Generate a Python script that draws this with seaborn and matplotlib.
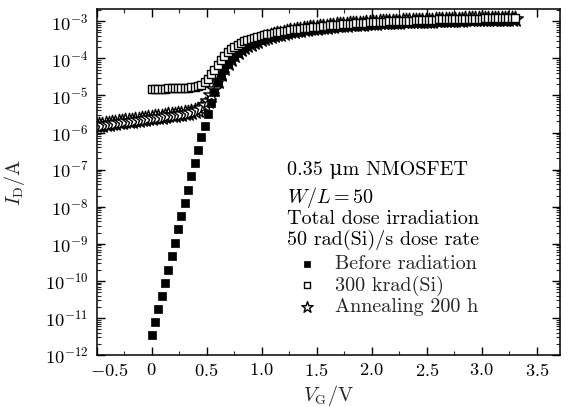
import numpy as np
import pandas as pd
import matplotlib
matplotlib.use("Agg")
import matplotlib.pyplot as plt
from matplotlib.ticker import FixedLocator, FuncFormatter, LogLocator, NullFormatter, MultipleLocator
from matplotlib.transforms import ScaledTranslation
import seaborn as sns

# ---------------- data (log10 of drain current, A) ----------------
vg_before = [0.00, 0.03, 0.06, 0.09, 0.12, 0.15, 0.18, 0.21, 0.24, 0.27, 0.30, 0.33, 0.36, 0.39, 0.42, 0.45,
             0.48, 0.51, 0.54, 0.57, 0.60, 0.63, 0.66, 0.69, 0.72, 0.75, 0.78, 0.81, 0.84, 0.87, 0.90, 0.93,
             0.96, 0.99, 1.02, 1.05, 1.08, 1.11, 1.14, 1.17, 1.20, 1.23, 1.26, 1.29, 1.32, 1.35, 1.38, 1.41,
             1.44, 1.47, 1.50, 1.53, 1.56, 1.59, 1.62, 1.65, 1.68, 1.71, 1.74, 1.77, 1.80, 1.83, 1.86, 1.89,
             1.92, 1.95, 1.98, 2.01, 2.04, 2.07, 2.10, 2.13, 2.16, 2.19, 2.22, 2.25, 2.28, 2.31, 2.34, 2.37,
             2.40, 2.43, 2.46, 2.49, 2.52, 2.55, 2.58, 2.61, 2.64, 2.67, 2.70, 2.73, 2.76, 2.79, 2.82, 2.85,
             2.88, 2.91, 2.94, 2.97, 3.00, 3.03, 3.06, 3.09, 3.12, 3.15, 3.18, 3.21, 3.24, 3.27, 3.30]
logi_before = [-11.46, -11.12, -10.77, -10.42, -10.07, -9.70, -9.33, -8.97, -8.61, -8.25, -7.89, -7.54, -7.17,
               -6.83, -6.47, -6.13, -5.83, -5.51, -5.20, -4.90, -4.65, -4.44, -4.28, -4.14, -4.03, -3.93,
               -3.85, -3.78, -3.72, -3.66, -3.62, -3.58, -3.54, -3.50, -3.47, -3.44, -3.41, -3.39, -3.37,
               -3.35, -3.33, -3.31, -3.29, -3.28, -3.26, -3.25, -3.23, -3.22, -3.21, -3.20, -3.19, -3.18,
               -3.17, -3.16, -3.15, -3.14, -3.13, -3.12, -3.12, -3.11, -3.10, -3.10, -3.09, -3.08, -3.08,
               -3.07, -3.07, -3.06, -3.06, -3.05, -3.05, -3.04, -3.04, -3.04, -3.03, -3.03, -3.02, -3.02,
               -3.02, -3.01, -3.01, -3.01, -3.00, -3.00, -3.00, -3.00, -2.99, -2.99, -2.99, -2.99, -2.98,
               -2.98, -2.98, -2.98, -2.98, -2.97, -2.97, -2.97, -2.97, -2.97, -2.96, -2.96, -2.96, -2.96,
               -2.96, -2.95, -2.95, -2.95, -2.95, -2.95, -2.95]

vg_300k = [0.00, 0.03, 0.06, 0.09, 0.12, 0.15, 0.18, 0.21, 0.24, 0.27, 0.30, 0.33, 0.36, 0.39, 0.42, 0.45,
           0.48, 0.51, 0.54, 0.57, 0.60, 0.63, 0.66, 0.69, 0.72, 0.75, 0.78, 0.81, 0.84, 0.87, 0.90, 0.93,
           0.96, 0.99, 1.02, 1.05, 1.08, 1.11, 1.14, 1.17, 1.20, 1.23, 1.26, 1.29, 1.32, 1.35, 1.38, 1.41,
           1.44, 1.47, 1.50, 1.53, 1.56, 1.59, 1.62, 1.65, 1.68, 1.71, 1.74, 1.77, 1.80, 1.83, 1.86, 1.89,
           1.92, 1.95, 1.98, 2.01, 2.04, 2.07, 2.10, 2.13, 2.16, 2.19, 2.22, 2.25, 2.28, 2.31, 2.34, 2.37,
           2.40, 2.43, 2.46, 2.49, 2.52, 2.55, 2.58, 2.61, 2.64, 2.67, 2.70, 2.73, 2.76, 2.79, 2.82, 2.85,
           2.88, 2.91, 2.94, 2.97, 3.00, 3.03, 3.06, 3.09, 3.12, 3.15, 3.18, 3.21, 3.24, 3.27, 3.30]
logi_300k = [-4.83, -4.83, -4.82, -4.82, -4.82, -4.81, -4.81, -4.81, -4.80, -4.80, -4.79, -4.79, -4.78,
             -4.77, -4.75, -4.71, -4.64, -4.55, -4.43, -4.30, -4.17, -4.05, -3.94, -3.84, -3.76, -3.69,
             -3.63, -3.58, -3.54, -3.50, -3.47, -3.44, -3.41, -3.39, -3.37, -3.35, -3.33, -3.31, -3.29,
             -3.28, -3.26, -3.25, -3.23, -3.22, -3.21, -3.20, -3.19, -3.18, -3.17, -3.16, -3.15, -3.14,
             -3.13, -3.12, -3.11, -3.10, -3.10, -3.09, -3.08, -3.07, -3.07, -3.06, -3.05, -3.05, -3.04,
             -3.04, -3.03, -3.03, -3.02, -3.02, -3.01, -3.01, -3.00, -3.00, -3.00, -2.99, -2.99, -2.98,
             -2.98, -2.98, -2.97, -2.97, -2.97, -2.96, -2.96, -2.96, -2.96, -2.95, -2.95, -2.95, -2.95,
             -2.94, -2.94, -2.94, -2.94, -2.94, -2.93, -2.93, -2.93, -2.93, -2.93, -2.92, -2.92, -2.92,
             -2.92, -2.92, -2.91, -2.91, -2.91, -2.91, -2.91]

vg_anneal = [-0.51, -0.48, -0.45, -0.42, -0.39, -0.36, -0.33, -0.30, -0.27, -0.24, -0.21, -0.18, -0.15, -0.12,
             -0.09, -0.06, -0.03, 0.00, 0.03, 0.06, 0.09, 0.12, 0.15, 0.18, 0.21, 0.24, 0.27, 0.30, 0.33,
             0.36, 0.39, 0.42, 0.45, 0.48, 0.51, 0.54, 0.57, 0.60, 0.63, 0.66, 0.69, 0.72, 0.75, 0.78, 0.81,
             0.84, 0.87, 0.90, 0.93, 0.96, 0.99, 1.02, 1.05, 1.08, 1.11, 1.14, 1.17, 1.20, 1.23, 1.26, 1.29,
             1.32, 1.35, 1.38, 1.41, 1.44, 1.47, 1.50, 1.53, 1.56, 1.59, 1.62, 1.65, 1.68, 1.71, 1.74, 1.77,
             1.80, 1.83, 1.86, 1.89, 1.92, 1.95, 1.98, 2.01, 2.04, 2.07, 2.10, 2.13, 2.16, 2.19, 2.22, 2.25,
             2.28, 2.31, 2.34, 2.37, 2.40, 2.43, 2.46, 2.49, 2.52, 2.55, 2.58, 2.61, 2.64, 2.67, 2.70, 2.73,
             2.76, 2.79, 2.82, 2.85, 2.88, 2.91, 2.94, 2.97, 3.00, 3.03, 3.06, 3.09, 3.12, 3.15, 3.18, 3.21,
             3.24, 3.27, 3.30]
logi_anneal = [-5.81, -5.80, -5.79, -5.77, -5.76, -5.75, -5.74, -5.72, -5.71, -5.70, -5.69, -5.68, -5.66,
               -5.65, -5.64, -5.63, -5.62, -5.60, -5.59, -5.58, -5.57, -5.56, -5.54, -5.53, -5.52, -5.51,
               -5.50, -5.48, -5.47, -5.45, -5.43, -5.39, -5.33, -5.25, -5.14, -5.00, -4.82, -4.62, -4.42,
               -4.26, -4.12, -4.01, -3.91, -3.83, -3.76, -3.70, -3.64, -3.60, -3.56, -3.52, -3.48, -3.45,
               -3.42, -3.39, -3.37, -3.35, -3.33, -3.31, -3.29, -3.27, -3.26, -3.24, -3.23, -3.21, -3.20,
               -3.19, -3.18, -3.17, -3.16, -3.15, -3.14, -3.13, -3.12, -3.11, -3.10, -3.10, -3.09, -3.08,
               -3.08, -3.07, -3.06, -3.06, -3.05, -3.05, -3.04, -3.04, -3.03, -3.03, -3.02, -3.02, -3.02,
               -3.01, -3.01, -3.00, -3.00, -3.00, -2.99, -2.99, -2.99, -2.98, -2.98, -2.98, -2.98, -2.97,
               -2.97, -2.97, -2.97, -2.96, -2.96, -2.96, -2.96, -2.96, -2.95, -2.95, -2.95, -2.95, -2.95,
               -2.94, -2.94, -2.94, -2.94, -2.94, -2.93, -2.93, -2.93, -2.93, -2.93, -2.93]

series_labels = ["Before radiation", "300 krad(Si)", "Annealing 200 h"]
x_ticks = [-0.5, 0.0, 0.5, 1.0, 1.5, 2.0, 2.5, 3.0, 3.5]
y_decades = [-12, -11, -10, -9, -8, -7, -6, -5, -4, -3]
info_lines = ["0.35 \u03bcm NMOSFET", r"$W/L = 50$", "Total dose irradiation", "50 rad(Si)/s dose rate"]

# ---------------- style ----------------
sns.set_style("ticks", {"xtick.direction": "in", "ytick.direction": "in"})
plt.rcParams["font.family"] = ["cmr10", "DejaVu Serif"]
plt.rcParams["mathtext.fontset"] = "cm"
plt.rcParams["axes.unicode_minus"] = False
plt.rcParams["axes.formatter.use_mathtext"] = True

FS_TICK = 13.3
FS_TEXT = 14.5

fig = plt.figure(figsize=(5.68, 4.07), dpi=100)
ax = fig.add_axes([96.7 / 568, 1 - 355 / 407, (560 - 96.7) / 568, (355 - 9) / 407])

df_b = pd.DataFrame({"VG": vg_before, "ID": 10.0 ** np.array(logi_before)})
df_r = pd.DataFrame({"VG": vg_300k, "ID": 10.0 ** np.array(logi_300k)})
df_a = pd.DataFrame({"VG": vg_anneal, "ID": 10.0 ** np.array(logi_anneal)})

sns.scatterplot(data=df_a, x="VG", y="ID", ax=ax, marker="*", s=140, color="white",
                edgecolor="black", linewidth=1.0, label=series_labels[2], zorder=2)
sns.scatterplot(data=df_b, x="VG", y="ID", ax=ax, marker="s", s=38, color="black",
                edgecolor="black", linewidth=0.5, label=series_labels[0], zorder=3)
sns.scatterplot(data=df_r, x="VG", y="ID", ax=ax, marker="s", s=34, color="white",
                edgecolor="black", linewidth=1.0, label=series_labels[1], zorder=4)

ax.set_yscale("log")
ax.set_xlim(-0.5, 3.71)
ax.set_ylim(1e-12, 10 ** -2.668)

ax.xaxis.set_major_locator(FixedLocator(x_ticks))
ax.xaxis.set_minor_locator(MultipleLocator(0.25))
ax.xaxis.set_major_formatter(FuncFormatter(lambda v, p: "$0$" if abs(v) < 1e-9 else "$%.1f$" % v))
ax.yaxis.set_major_locator(FixedLocator([10.0 ** d for d in y_decades]))
ax.yaxis.set_minor_locator(LogLocator(base=10, subs=np.arange(2, 10), numticks=50))
ax.yaxis.set_minor_formatter(NullFormatter())
ax.yaxis.set_major_formatter(FuncFormatter(lambda v, p: r"$10^{%d}$" % int(round(np.log10(v)))))

for s in ax.spines.values():
    s.set_linewidth(1.1)
    s.set_color("black")

ax.tick_params(axis="both", which="major", direction="in", length=6, width=1.0,
               labelsize=FS_TICK, colors="black", top=True, right=True)
ax.tick_params(axis="both", which="minor", direction="in", length=3, width=0.8,
               top=True, right=True)
ax.tick_params(axis="x", which="major", pad=5)
ax.tick_params(axis="y", which="major", pad=6)

ax.set_xlabel(r"$V_{\mathrm{G}}/\mathrm{V}$", fontsize=FS_TEXT, va="center")
ax.set_ylabel(r"$I_{\mathrm{D}}/\mathrm{A}$", fontsize=FS_TEXT)
ax.xaxis.set_label_coords(0.5, (355 - 395) / 346)
ax.yaxis.set_label_coords(-0.150, 0.5)

# shift the first x tick label to the right as in the reference
lab0 = ax.get_xticklabels()[0]
lab0.set_transform(lab0.get_transform() + ScaledTranslation(13 / 100, 0, fig.dpi_scale_trans))

# information text block
baselines = [175, 202.7, 224, 245]
for line, by in zip(info_lines, baselines):
    ax.text((287 - 96.7) / 463.3, (355 - by) / 346, line, transform=ax.transAxes,
            fontsize=FS_TEXT, ha="left", va="baseline", color="black")

# legend
handles, labels = ax.get_legend_handles_labels()
order = [labels.index(l) for l in series_labels]
leg = ax.legend([handles[i] for i in order], [labels[i] for i in order],
                loc="upper left", bbox_to_anchor=((297 - 96.7) / 463.3, (355 - 255) / 346),
                frameon=False, fontsize=FS_TEXT, handlelength=1.0, handletextpad=0.9,
                labelspacing=0.12, borderpad=0.0, borderaxespad=0.0, markerscale=0.72)

fig.savefig("out.png", dpi=100)
